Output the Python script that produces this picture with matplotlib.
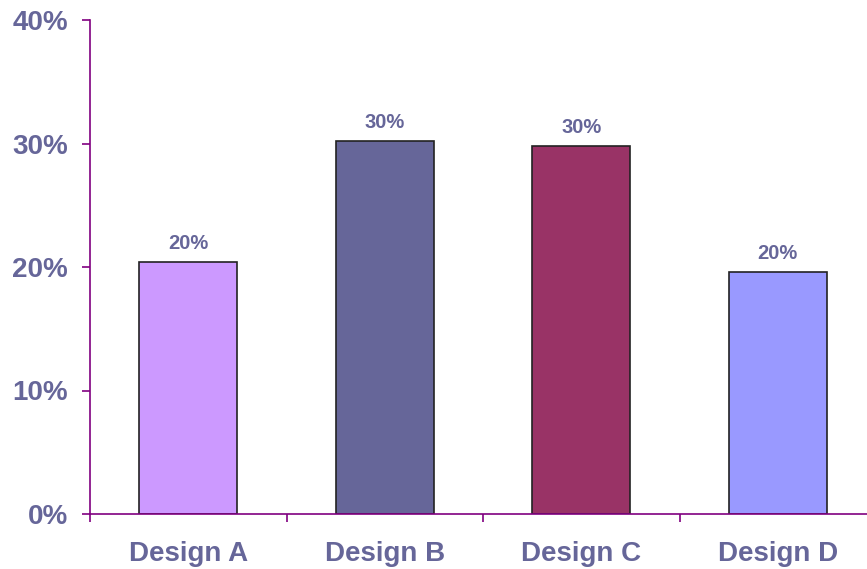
import numpy as np
import matplotlib.pyplot as plt
from matplotlib.ticker import FixedLocator

designs = ['Design A', 'Design B', 'Design C', 'Design D']
shares = [0.204, 0.302, 0.298, 0.196]
bar_labels = ['20%', '30%', '30%', '20%']
bar_colors = ['#CC99FF', '#666699', '#993366', '#9999FF']
y_ticks = [0.0, 0.1, 0.2, 0.3, 0.4]
y_tick_labels = ['0%', '10%', '20%', '30%', '40%']

text_color = '#666699'
axis_color = '#800080'
plt.rcParams['font.family'] = ['Liberation Sans', 'DejaVu Sans']
plt.rcParams['font.weight'] = 'bold'

fig = plt.figure(figsize=(8.67, 5.69), dpi=100)
ax = fig.add_axes([90/867, 55/569, 777/867, 494/569])

x = np.arange(len(designs))
bars = ax.bar(x, shares, width=0.5, color=bar_colors, edgecolor='#222222', linewidth=1.2, zorder=2)

for rect, lab in zip(bars, bar_labels):
    ax.annotate(lab, (rect.get_x() + rect.get_width()/2, rect.get_height()),
                xytext=(0, 6.5), textcoords='offset points', ha='center', va='bottom',
                fontsize=14.5, fontweight='bold', color=text_color)

ax.set_xlim(-0.5, -0.5 + 777/196.5)
ax.set_ylim(0, 0.4)

ax.set_yticks(y_ticks)
ax.set_yticklabels(y_tick_labels, fontweight='bold')
ax.tick_params(axis='y', direction='out', length=6, width=1.2, color=axis_color,
               labelsize=20, labelcolor=text_color, pad=10)

# boundary ticks on x, labels at category centres
ax.xaxis.set_major_locator(FixedLocator([-0.5, 0.5, 1.5, 2.5, 3.5]))
ax.xaxis.set_major_formatter(plt.NullFormatter())
ax.set_xticks(x, minor=True)
ax.set_xticklabels(designs, minor=True, fontweight='bold')
ax.tick_params(axis='x', which='major', direction='out', length=6, width=1.2, color=axis_color)
ax.tick_params(axis='x', which='minor', length=0, labelsize=20, labelcolor=text_color, pad=19.5)

for side in ['top', 'right']:
    ax.spines[side].set_visible(False)
for side in ['left', 'bottom']:
    ax.spines[side].set_color(axis_color)
    ax.spines[side].set_linewidth(1.2)

fig.savefig('out.png', dpi=100)
